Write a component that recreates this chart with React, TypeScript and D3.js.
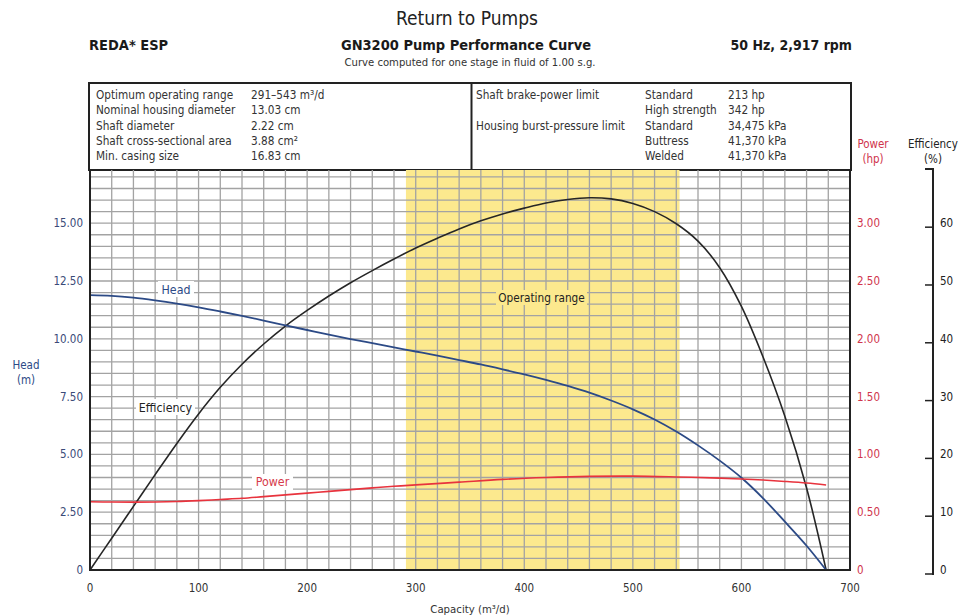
import React from "react";
import * as d3 from "d3";

// Capacity samples (m³/d) shared by the head and efficiency curves
const capacity = [0, 20, 40, 60, 80, 100, 120, 140, 160, 180, 200, 220, 240, 260, 280, 300, 320, 340, 360, 380, 400, 420, 440, 460, 480, 500, 520, 540, 560, 580, 600, 620, 640, 660, 678];

// Head (m)
const headValues = [11.89, 11.86, 11.78, 11.66, 11.52, 11.36, 11.18, 10.99, 10.79, 10.58, 10.38, 10.18, 9.99, 9.81, 9.63, 9.45, 9.27, 9.08, 8.89, 8.68, 8.46, 8.22, 7.96, 7.67, 7.33, 6.95, 6.51, 5.99, 5.39, 4.73, 3.99, 3.1, 2.09, 1.05, 0];

// Efficiency (%)
const effValues = [0, 5.5, 11.0, 16.5, 21.9, 27.0, 31.6, 35.6, 39.1, 42.2, 44.9, 47.4, 49.7, 51.8, 53.8, 55.7, 57.4, 59.0, 60.4, 61.6, 62.6, 63.5, 64.1, 64.4, 64.2, 63.4, 62.0, 59.9, 56.9, 52.3, 45.6, 36.8, 26.6, 14.2, 0];

// Brake power (hp)
const powerCapacity = [0, 20, 40, 60, 80, 100, 120, 140, 160, 180, 200, 220, 240, 260, 280, 300, 340, 380, 420, 460, 500, 540, 580, 600, 620, 640, 660, 678];
const powerValues = [0.59, 0.588, 0.587, 0.588, 0.592, 0.6, 0.61, 0.62, 0.635, 0.65, 0.665, 0.68, 0.695, 0.71, 0.724, 0.736, 0.76, 0.784, 0.8, 0.81, 0.812, 0.805, 0.795, 0.787, 0.778, 0.766, 0.752, 0.735];

// Axis ticks
const capacityTicks = [0, 100, 200, 300, 400, 500, 600, 700];
const headTicks = [0, 2.5, 5, 7.5, 10, 12.5, 15];
const powerTicks = [0, 0.5, 1, 1.5, 2, 2.5, 3];
const effTicks = [0, 10, 20, 30, 40, 50, 60];

// Operating range (m³/d)
const operatingRange = [291, 543];

// Spec table
const specLeftLabels = ["Optimum operating range", "Nominal housing diameter", "Shaft diameter", "Shaft cross-sectional area", "Min. casing size"];
const specLeftValues = ["291–543 m³/d", "13.03 cm", "2.22 cm", "3.88 cm²", "16.83 cm"];
const specRightLabels = ["Shaft brake-power limit", "", "Housing burst-pressure limit", "", ""];
const specRightTypes = ["Standard", "High strength", "Standard", "Buttress", "Welded"];
const specRightValues = ["213 hp", "342 hp", "34,475 kPa", "41,370 kPa", "41,370 kPa"];

const FONT = "'Liberation Sans Narrow', 'DejaVu Sans Condensed', 'Arial Narrow', 'Liberation Sans', sans-serif";

const W = 963;
const H = 616;
const left = 90;
const right = 850;
const top = 170;
const bottom = 570;

const HEAD_MAX = 17.3;

export default function App() {
  const x = d3.scaleLinear().domain([0, 700]).range([left, right]);
  const yHead = d3.scaleLinear().domain([0, HEAD_MAX]).range([bottom, top]);
  const yPower = d3.scaleLinear().domain([0, HEAD_MAX / 5]).range([bottom, top]);
  const yEff = d3.scaleLinear().domain([0, HEAD_MAX * 4]).range([bottom, top]);

  const vGrid = d3.range(20, 700, 20);
  const hGrid = d3.range(0.5, 17.01, 0.5);

  const lineOf = (xs: number[], ys: number[], yScale: d3.ScaleLinear<number, number>) =>
    d3
      .line<number>()
      .x((_, i) => x(xs[i]))
      .y((d) => yScale(d))
      .curve(d3.curveCatmullRom.alpha(0.5))(ys) as string;

  const headPath = lineOf(capacity, headValues, yHead);
  const effPath = lineOf(capacity, effValues, yEff);
  const powerPath = lineOf(powerCapacity, powerValues, yPower);

  const fmt2 = (v: number) => (v === 0 ? "0" : v.toFixed(2));

  const effAxisX = 933;
  const rowY = (i: number) => 95 + i * 15.3;
  const specSize = 11.7;
  const tickSize = 11.5;

  return (
    <svg width={W} height={H} style={{ position: "absolute", left: 0, top: 0, display: "block", background: "#fff" }} fontFamily={FONT}>
      {/* Titles */}
      <text x={467} y={25} textAnchor="middle" fontSize={19} fill="#222">Return to Pumps</text>
      <text x={89} y={50} fontSize={14.5} fontWeight="bold" fill="#1a1a1a">REDA* ESP</text>
      <text x={466} y={50} textAnchor="middle" fontSize={14.5} fontWeight="bold" fill="#1a1a1a">GN3200 Pump Performance Curve</text>
      <text x={852} y={50} textAnchor="end" fontSize={14} fontWeight="bold" fill="#1a1a1a">50 Hz, 2,917 rpm</text>
      <text x={470} y={66} textAnchor="middle" fontSize={11.2} fill="#333">Curve computed for one stage in fluid of 1.00 s.g.</text>

      {/* Spec table */}
      <rect x={89} y={83} width={762} height={87} fill="#fff" stroke="#222" strokeWidth={2} />
      <line x1={471.5} x2={471.5} y1={83} y2={170} stroke="#222" strokeWidth={2} />
      {specLeftLabels.map((t, i) => (
        <g key={"sl" + i} fontSize={specSize} fill="#333">
          <text x={96} y={rowY(i) + 4}>{t}</text>
          <text x={251} y={rowY(i) + 4}>{specLeftValues[i]}</text>
        </g>
      ))}
      {specRightTypes.map((t, i) => (
        <g key={"sr" + i} fontSize={specSize} fill="#333">
          {specRightLabels[i] && <text x={476} y={rowY(i) + 4}>{specRightLabels[i]}</text>}
          <text x={645} y={rowY(i) + 4}>{t}</text>
          <text x={728} y={rowY(i) + 4}>{specRightValues[i]}</text>
        </g>
      ))}

      {/* Operating range band */}
      <rect x={x(operatingRange[0])} y={top} width={x(operatingRange[1]) - x(operatingRange[0])} height={bottom - top} fill="#fce98e" />

      {/* Grid */}
      {vGrid.map((v) => (
        <line key={"v" + v} x1={x(v)} x2={x(v)} y1={top} y2={bottom} stroke="#a3a3a3" strokeWidth={1.3} />
      ))}
      {hGrid.map((v) => (
        <line key={"h" + v} x1={left} x2={right} y1={yHead(v)} y2={yHead(v)} stroke="#a3a3a3" strokeWidth={1.3} />
      ))}

      {/* Operating range label */}
      <rect x={496} y={290} width={91} height={15} fill="#fce98e" />
      <text x={541.5} y={302} textAnchor="middle" fontSize={11.7} fill="#222">Operating range</text>

      {/* Curves */}
      <path d={effPath} fill="none" stroke="#262626" strokeWidth={1.6} />
      <path d={headPath} fill="none" stroke="#2c4a86" strokeWidth={1.8} />
      <path d={powerPath} fill="none" stroke="#e8333d" strokeWidth={1.6} />

      {/* Curve labels */}
      <rect x={158} y={281} width={36} height={16} fill="#fff" />
      <text x={176} y={294} textAnchor="middle" fontSize={12.3} fill="#2c4a86">Head</text>
      <rect x={136} y={399} width={59} height={16} fill="#fff" />
      <text x={165.5} y={412} textAnchor="middle" fontSize={12.3} fill="#222">Efficiency</text>
      <rect x={252} y={474} width={41} height={16} fill="#fff" />
      <text x={272.5} y={486} textAnchor="middle" fontSize={12.3} fill="#d63a4a">Power</text>

      {/* Plot frame */}
      <line x1={left} x2={left} y1={top} y2={bottom + 1} stroke="#222" strokeWidth={2} />
      <line x1={right} x2={right} y1={top} y2={bottom + 1} stroke="#222" strokeWidth={2} />
      <line x1={left - 1} x2={right + 1} y1={bottom} y2={bottom} stroke="#222" strokeWidth={2} />

      {/* Capacity axis */}
      {capacityTicks.map((v) => (
        <text key={"xt" + v} x={x(v)} y={592} textAnchor="middle" fontSize={tickSize} fill="#333">{v}</text>
      ))}
      <text x={470} y={613} textAnchor="middle" fontSize={11.3} fill="#333">Capacity (m³/d)</text>

      {/* Head axis */}
      {headTicks.map((v) => (
        <text key={"hl" + v} x={83} y={yHead(v) + 4} textAnchor="end" fontSize={tickSize} fill="#3a4a78">{fmt2(v)}</text>
      ))}
      <text x={26} y={369} textAnchor="middle" fontSize={tickSize} fill="#2c4a86">Head</text>
      <text x={26} y={384} textAnchor="middle" fontSize={tickSize} fill="#2c4a86">(m)</text>

      {/* Power axis */}
      {powerTicks.map((v) => (
        <text key={"pl" + v} x={857} y={yPower(v) + 4} fontSize={tickSize} fill="#d0344c">{fmt2(v)}</text>
      ))}
      <text x={873} y={148} textAnchor="middle" fontSize={tickSize} fill="#d0344c">Power</text>
      <text x={873} y={163} textAnchor="middle" fontSize={tickSize} fill="#d0344c">(hp)</text>

      {/* Efficiency axis */}
      <line x1={effAxisX} x2={effAxisX} y1={169} y2={yEff(0) + 5} stroke="#222" strokeWidth={2} />
      <line x1={925} x2={effAxisX + 1} y1={169} y2={169} stroke="#222" strokeWidth={2} />
      {effTicks.map((v) => (
        <g key={"et" + v}>
          <line x1={925} x2={effAxisX} y1={yEff(v) + 4} y2={yEff(v) + 4} stroke="#222" strokeWidth={1.5} />
          <text x={940} y={yEff(v) + 4} fontSize={tickSize} fill="#222">{v}</text>
        </g>
      ))}
      <text x={933} y={148} textAnchor="middle" fontSize={tickSize} fill="#222">Efficiency</text>
      <text x={933} y={163} textAnchor="middle" fontSize={tickSize} fill="#222">(%)</text>
    </svg>
  );
}
